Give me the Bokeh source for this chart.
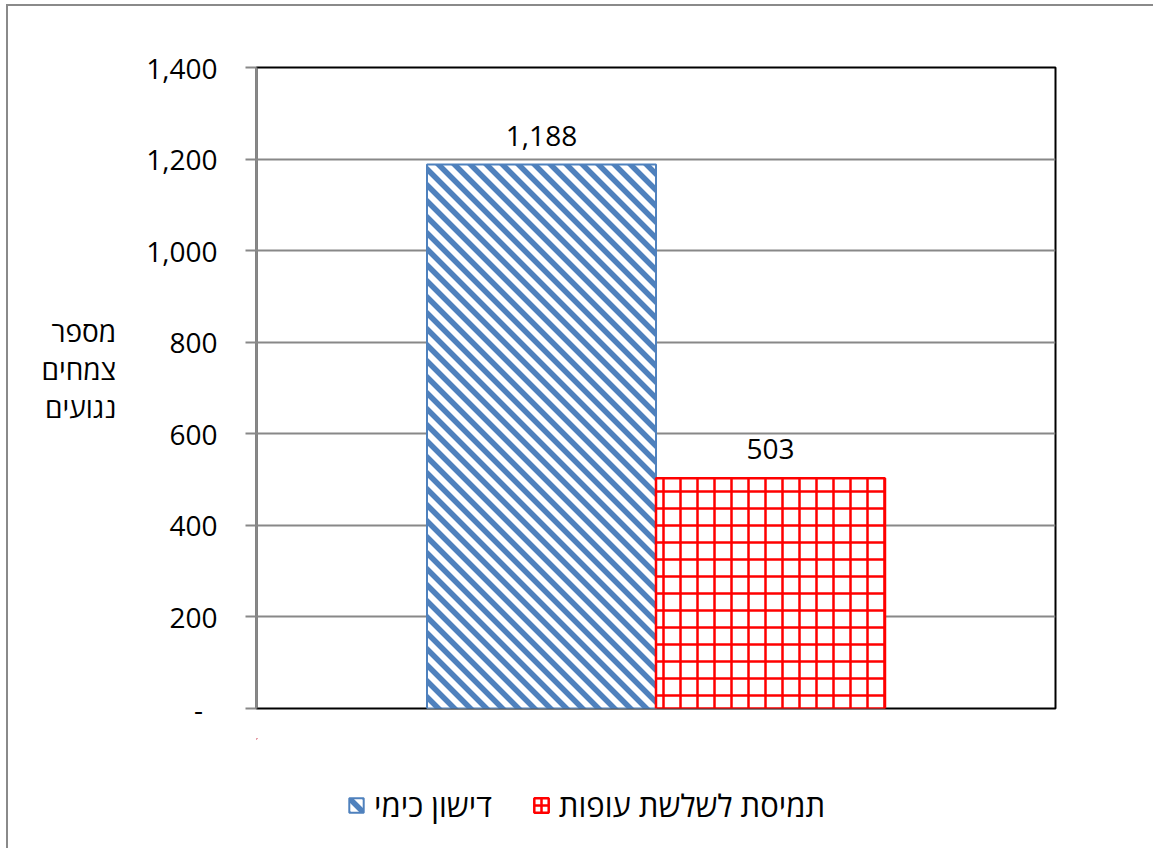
import struct, zlib, base64
from bokeh.plotting import figure
from bokeh.layouts import column
from bokeh.models import (Range1d, Legend, LegendItem, LabelSet,
                          ColumnDataSource, NumeralTickFormatter, FixedTicker,
                          ImageURLTexture)
from bokeh.core.properties import value
from bokeh.embed import file_html
from bokeh.resources import INLINE

# ---- data ----
series = ["דישון כימי", "תמיסת לשלשת עופות"]
values = [1188, 503]
y_ticks = [0, 200, 400, 600, 800, 1000, 1200, 1400]
y_title = "מספר\nצמחים\nנגועים\n"

FONT = "Open Sans"
FS = "28px"
blue = "#4F81BD"
red = "#FF0000"
bar_w = 0.2866
xs = [0.5 + (i - (len(series) - 1) / 2) * bar_w for i in range(len(series))]
labels = [f"{v:,}" for v in values]


# --- 45 degree "\" stripe tile as a PNG texture ---
def stripe_png(period=16, width=5.5, rgb=(0x4F, 0x81, 0xBD)):
    rows = []
    for y in range(period):
        row = bytearray([0])
        for x in range(period):
            best = 1e9
            for k in (-2, -1, 0, 1, 2):
                d = abs((x + 0.5) - (y + 0.5) - k * period) / 2 ** 0.5
                best = min(best, d)
            c = max(0.0, min(1.0, width / 2 - best + 0.5))
            row += bytes(int(round(255 * (1 - c) + ch * c)) for ch in rgb) + b"\xff"
        rows.append(bytes(row))
    raw = b"".join(rows)

    def chunk(t, d):
        return struct.pack(">I", len(d)) + t + d + struct.pack(">I", zlib.crc32(t + d) & 0xffffffff)
    png = (b"\x89PNG\r\n\x1a\n"
           + chunk(b"IHDR", struct.pack(">IIBBBBB", period, period, 8, 6, 0, 0, 0))
           + chunk(b"IDAT", zlib.compress(raw))
           + chunk(b"IEND", b""))
    return "data:image/png;base64," + base64.b64encode(png).decode()


stripe = ImageURLTexture(url=stripe_png(), repetition="repeat")
blue_style = dict(fill_color="white", line_color=blue, line_width=2,
                  hatch_pattern=value("stripe"), hatch_extra={"stripe": stripe},
                  hatch_color=blue, hatch_scale=16, hatch_weight=4.5)
red_style = dict(fill_color="white", line_color=red, line_width=2.5,
                 hatch_pattern="+", hatch_color=red, hatch_scale=17, hatch_weight=2.5)

# ---------------- main chart ----------------
p = figure(width=1145, height=732, output_backend="svg", toolbar_location=None,
           x_range=Range1d(0, 1), y_range=Range1d(0, 1400),
           min_border_left=248, min_border_right=98,
           min_border_top=61, min_border_bottom=30)
p.background_fill_color = "white"
p.border_fill_color = "white"
p.outline_line_color = "black"
p.outline_line_width = 2

p.vbar(x=[xs[0]], top=[values[0]], width=bar_w, bottom=0, **blue_style)
p.vbar(x=[xs[1]], top=[values[1]], width=bar_w, bottom=0, **red_style)

src = ColumnDataSource(dict(x=xs, top=values, label=labels))
p.add_layout(LabelSet(x="x", y="top", text="label", source=src, y_offset=29,
                      text_align="center", text_baseline="middle",
                      text_font=value(FONT), text_font_size=FS, text_color="black"))

yax = p.yaxis[0]
yax.ticker = FixedTicker(ticks=y_ticks)
yax.formatter = NumeralTickFormatter(format="0,0")
yax.major_label_overrides = {0: "-\u00a0\u00a0"}
yax.axis_line_color = "#888888"
yax.axis_line_width = 2
yax.major_tick_line_color = "#888888"
yax.major_tick_line_width = 2
yax.major_tick_out = 11
yax.major_tick_in = 0
yax.minor_tick_line_color = None
yax.major_label_text_font = FONT
yax.major_label_text_font_size = FS
yax.major_label_text_color = "black"
yax.major_label_standoff = 28
yax.axis_label = y_title
yax.axis_label_orientation = "horizontal"
yax.axis_label_text_font = FONT
yax.axis_label_text_font_size = FS
yax.axis_label_text_font_style = "normal"
yax.axis_label_text_color = "black"
yax.axis_label_text_align = "center"
yax.axis_label_text_line_height = 1.0
yax.axis_label_standoff = 27

p.xaxis.visible = False
p.xgrid.grid_line_color = None
p.ygrid.grid_line_color = "#888888"
p.ygrid.grid_line_width = 2

# ---------------- legend strip ----------------
# (its ranges lie far away from the bars, so only the legend swatches show)
p2 = figure(width=1145, height=110, output_backend="svg", toolbar_location=None,
            x_range=Range1d(100, 101), y_range=Range1d(-3000, -2000),
            min_border=0, min_border_left=0, min_border_right=0,
            min_border_top=0, min_border_bottom=0)
p2.axis.visible = False
p2.grid.visible = False
p2.outline_line_color = None
p2.background_fill_color = "white"
p2.border_fill_color = "white"
lb = p2.vbar(x=[xs[0]], top=[values[0]], width=bar_w, bottom=0, **blue_style)
lr = p2.vbar(x=[xs[1]], top=[values[1]], width=bar_w, bottom=0, **red_style)

legend = Legend(items=[LegendItem(label=series[0], renderers=[lb]),
                       LegendItem(label=series[1], renderers=[lr])],
                orientation="horizontal", location=(91, 22),
                label_text_font=FONT, label_text_font_size="31px", label_text_color="black",
                glyph_width=18, glyph_height=18, spacing=40, label_standoff=9,
                border_line_color=None, background_fill_alpha=0, padding=0, margin=0)
p2.add_layout(legend, "center")

layout = column(p, p2, spacing=0)
layout.margin = (4, 0, 0, 6)
layout.styles = {"border-left": "2px solid #8a8a8a", "border-top": "2px solid #8a8a8a"}

open("out.html", "w").write(file_html(layout, INLINE))
